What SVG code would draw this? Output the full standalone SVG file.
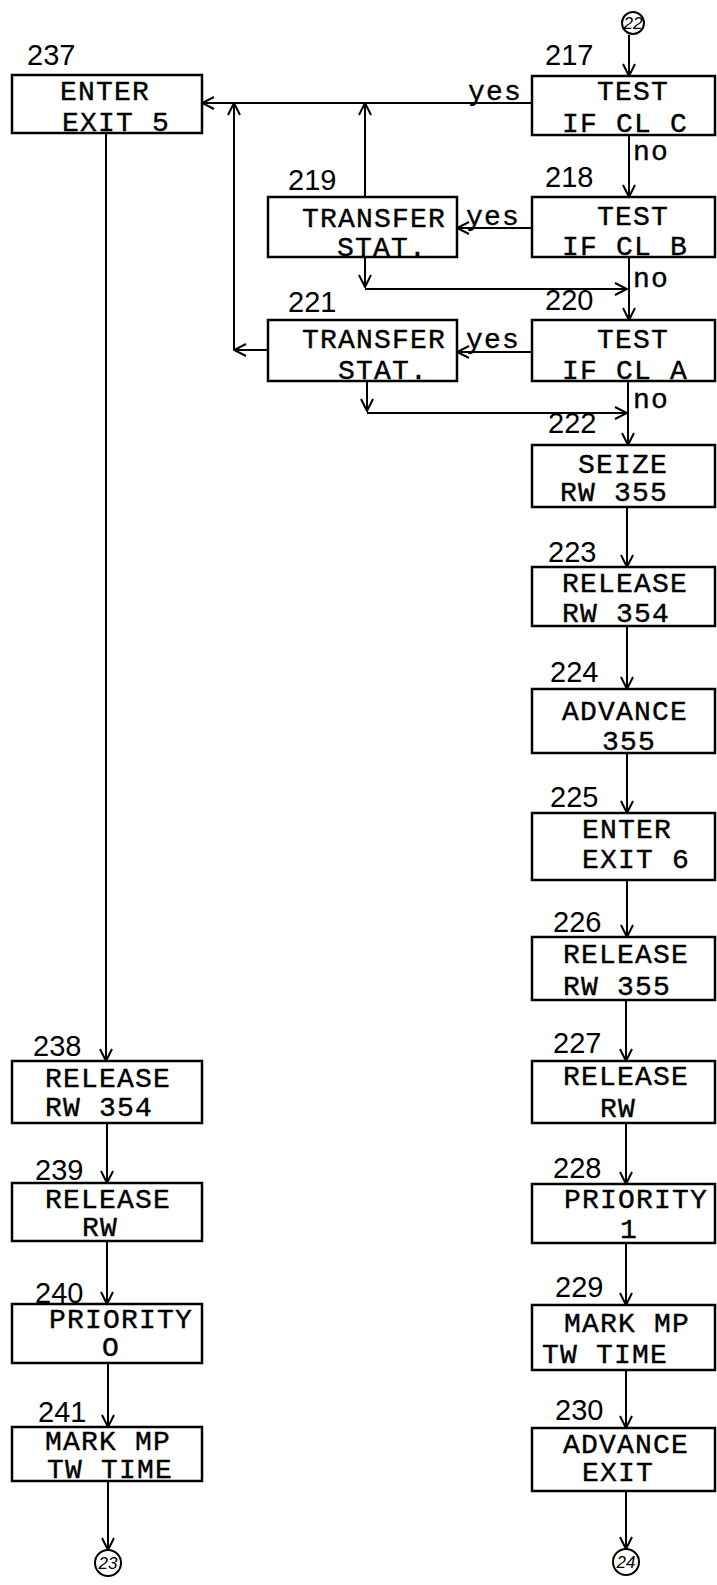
<svg xmlns="http://www.w3.org/2000/svg" width="717" height="1585" viewBox="0 0 717 1585">
<style>
.box{fill:none;stroke:#000;stroke-width:2.5}
.t{font-family:"Liberation Mono","Courier New",monospace;font-size:28px;letter-spacing:1.2px;fill:#000;stroke:#000;stroke-width:0.4}
.n{font-family:"Liberation Sans",Arial,sans-serif;font-size:29px;fill:#000}
.c{font-family:"Liberation Sans",Arial,sans-serif;font-size:17px;font-style:italic;fill:#000;text-anchor:middle}
.ln{fill:none;stroke:#000;stroke-width:2;marker-end:url(#a)}
.circ{fill:#fff;stroke:#000;stroke-width:2}
</style>
<defs>
<marker id="a" viewBox="0 0 14 14" refX="13" refY="7" markerWidth="14" markerHeight="14" orient="auto" markerUnits="userSpaceOnUse">
<path d="M1,1 L13,7 L1,13" fill="none" stroke="#000" stroke-width="2"/>
</marker>
</defs>
<rect width="717" height="1585" fill="#fff"/>

<g id="connectors">
<path class="ln" d="M629,35 V76"/>
<path class="ln" d="M629,135 V197"/>
<path class="ln" d="M629,257 V320"/>
<path class="ln" d="M628,381 V445"/>
<path class="ln" d="M627,507 V567"/>
<path class="ln" d="M627,626 V689"/>
<path class="ln" d="M627,753 V813"/>
<path class="ln" d="M627,880 V937"/>
<path class="ln" d="M626,1000 V1061"/>
<path class="ln" d="M626,1123 V1184"/>
<path class="ln" d="M626,1243 V1305"/>
<path class="ln" d="M626,1370 V1428"/>
<path class="ln" d="M626,1491 V1549"/>
<path class="ln" d="M106,133 V1061"/>
<path class="ln" d="M107,1123 V1183"/>
<path class="ln" d="M107,1241 V1304"/>
<path class="ln" d="M108,1363 V1427"/>
<path class="ln" d="M108,1481 V1550"/>
<path class="ln" d="M532,103 H202"/>
<path class="ln" d="M532,228 H457"/>
<path class="ln" d="M532,352 H457"/>
<path class="ln" d="M365,197 V103"/>
<path class="ln" d="M365,257 V287"/>
<path class="ln" d="M365,289 H627"/>
<path class="ln" d="M268,350 H234"/>
<path class="ln" d="M234,350 V103"/>
<path class="ln" d="M367,381 V411"/>
<path class="ln" d="M367,413 H627"/>
<text class="t" x="468" y="100">yes</text>
<text class="t" x="466" y="225">yes</text>
<text class="t" x="466" y="348">yes</text>
<text class="t" x="633" y="160">no</text>
<text class="t" x="633" y="287">no</text>
<text class="t" x="633" y="408">no</text>
</g>

<g id="c22"><circle class="circ" cx="633" cy="23" r="11"/><text class="c" x="633" y="29">22</text></g>
<g id="c23"><circle class="circ" cx="108" cy="1563" r="13"/><text class="c" x="108" y="1569">23</text></g>
<g id="c24"><circle class="circ" cx="626" cy="1562" r="13"/><text class="c" x="626" y="1568">24</text></g>

<g id="n237"><rect class="box" x="12" y="75" width="190" height="58"/><text class="n" x="27" y="65">237</text><text class="t" x="60" y="100">ENTER</text><text class="t" x="62" y="131">EXIT 5</text></g>
<g id="n217"><rect class="box" x="532" y="76" width="183" height="59"/><text class="n" x="545" y="65">217</text><text class="t" x="597" y="100">TEST</text><text class="t" x="562" y="132">IF CL C</text></g>
<g id="n218"><rect class="box" x="532" y="197" width="183" height="60"/><text class="n" x="545" y="187">218</text><text class="t" x="597" y="225">TEST</text><text class="t" x="562" y="255">IF CL B</text></g>
<g id="n220"><rect class="box" x="532" y="320" width="183" height="61"/><text class="n" x="545" y="310">220</text><text class="t" x="597" y="348">TEST</text><text class="t" x="562" y="379">IF CL A</text></g>
<g id="n219"><rect class="box" x="268" y="197" width="189" height="60"/><text class="n" x="288" y="190">219</text><text class="t" x="302" y="227">TRANSFER</text><text class="t" x="337" y="256">STAT.</text></g>
<g id="n221"><rect class="box" x="268" y="320" width="189" height="61"/><text class="n" x="288" y="312">221</text><text class="t" x="302" y="348">TRANSFER</text><text class="t" x="338" y="379">STAT.</text></g>
<g id="n222"><rect class="box" x="532" y="445" width="183" height="62"/><text class="n" x="548" y="433">222</text><text class="t" x="578" y="473">SEIZE</text><text class="t" x="560" y="501">RW 355</text></g>
<g id="n223"><rect class="box" x="532" y="567" width="183" height="59"/><text class="n" x="548" y="562">223</text><text class="t" x="562" y="592">RELEASE</text><text class="t" x="562" y="622">RW 354</text></g>
<g id="n224"><rect class="box" x="532" y="689" width="183" height="64"/><text class="n" x="550" y="682">224</text><text class="t" x="562" y="720">ADVANCE</text><text class="t" x="602" y="750">355</text></g>
<g id="n225"><rect class="box" x="532" y="813" width="183" height="67"/><text class="n" x="550" y="807">225</text><text class="t" x="582" y="838">ENTER</text><text class="t" x="582" y="868">EXIT 6</text></g>
<g id="n226"><rect class="box" x="532" y="937" width="183" height="63"/><text class="n" x="553" y="932">226</text><text class="t" x="563" y="963">RELEASE</text><text class="t" x="563" y="995">RW 355</text></g>
<g id="n227"><rect class="box" x="532" y="1061" width="183" height="62"/><text class="n" x="553" y="1053">227</text><text class="t" x="563" y="1085">RELEASE</text><text class="t" x="600" y="1117">RW</text></g>
<g id="n228"><rect class="box" x="532" y="1184" width="183" height="59"/><text class="n" x="553" y="1178">228</text><text class="t" x="564" y="1208">PRIORITY</text><text class="t" x="620" y="1238">1</text></g>
<g id="n229"><rect class="box" x="532" y="1305" width="183" height="65"/><text class="n" x="555" y="1297">229</text><text class="t" x="564" y="1332">MARK MP</text><text class="t" x="542" y="1363">TW TIME</text></g>
<g id="n230"><rect class="box" x="532" y="1428" width="183" height="63"/><text class="n" x="555" y="1420">230</text><text class="t" x="563" y="1453">ADVANCE</text><text class="t" x="582" y="1481">EXIT</text></g>
<g id="n238"><rect class="box" x="12" y="1061" width="190" height="62"/><text class="n" x="33" y="1056">238</text><text class="t" x="45" y="1087">RELEASE</text><text class="t" x="45" y="1116">RW 354</text></g>
<g id="n239"><rect class="box" x="12" y="1183" width="190" height="58"/><text class="n" x="35" y="1180">239</text><text class="t" x="45" y="1208">RELEASE</text><text class="t" x="82" y="1236">RW</text></g>
<g id="n240"><rect class="box" x="12" y="1304" width="190" height="59"/><text class="n" x="35" y="1303">240</text><text class="t" x="49" y="1328">PRIORITY</text><text class="t" x="102" y="1356">O</text></g>
<g id="n241"><rect class="box" x="12" y="1427" width="190" height="54"/><text class="n" x="38" y="1422">241</text><text class="t" x="45" y="1450">MARK MP</text><text class="t" x="47" y="1478">TW TIME</text></g>
</svg>
